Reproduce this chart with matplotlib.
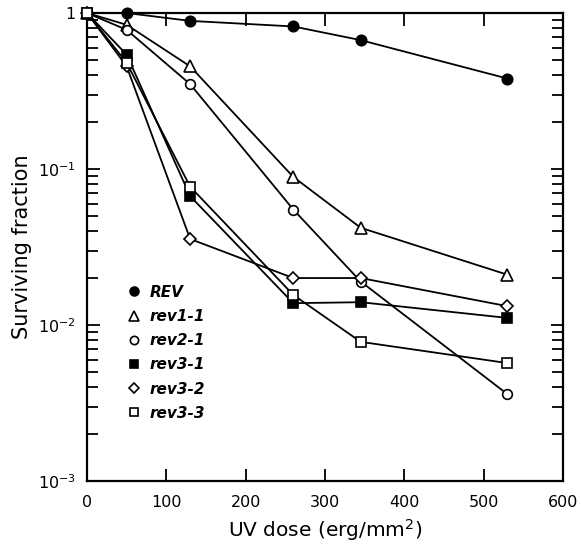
import matplotlib
matplotlib.use("Agg")
import matplotlib.pyplot as plt
from matplotlib.ticker import LogLocator, FixedLocator, NullFormatter, FixedFormatter

plt.rcParams['font.family'] = ['DejaVu Sans']
plt.rcParams['mathtext.fontset'] = 'dejavusans'

dose = [0, 50, 130, 260, 345, 530]

strains = ["REV", "rev1-1", "rev2-1", "rev3-1", "rev3-2", "rev3-3"]
survival = {
    "REV":    [1.0, 1.0, 0.89, 0.82, 0.67, 0.38],
    "rev1-1": [1.0, 0.84, 0.455, 0.089, 0.042, 0.021],
    "rev2-1": [1.0, 0.78, 0.35, 0.055, 0.019, 0.0036],
    "rev3-1": [1.0, 0.54, 0.067, 0.0138, 0.0140, 0.0111],
    "rev3-2": [1.0, 0.455, 0.0356, 0.0200, 0.0200, 0.0132],
    "rev3-3": [1.0, 0.48, 0.077, 0.0156, 0.0078, 0.0057],
}
markers = {"REV": "o", "rev1-1": "^", "rev2-1": "o", "rev3-1": "s",
           "rev3-2": "D", "rev3-3": "s"}
filled = {"REV": True, "rev1-1": False, "rev2-1": False, "rev3-1": True,
          "rev3-2": False, "rev3-3": False}
msize = {"REV": 7.5, "rev1-1": 9, "rev2-1": 7, "rev3-1": 6.5,
         "rev3-2": 6.2, "rev3-3": 6.5}

xticks = [0, 100, 200, 300, 400, 500, 600]
yticks = [1e-3, 1e-2, 1e-1, 1]
ytick_labels = [r"$10^{-3}$", r"$10^{-2}$", r"$10^{-1}$", "1"]

fig = plt.figure(figsize=(5.81, 5.47), dpi=100)
ax = fig.add_axes([87 / 581, 1 - 481 / 547, 476 / 581, 468 / 547])

for s in strains:
    ax.plot(dose, survival[s], color="black", lw=1.3,
            marker=markers[s], ms=msize[s],
            mfc="black" if filled[s] else "white", mec="black",
            mew=1.2, zorder=3, clip_on=False)

ax.set_yscale("log")
ax.set_xlim(0, 600)
ax.set_ylim(1e-3, 1.0)

ax.xaxis.set_major_locator(FixedLocator(xticks))
ax.yaxis.set_major_locator(FixedLocator(yticks))
ax.yaxis.set_major_formatter(FixedFormatter(ytick_labels))
ax.yaxis.set_minor_locator(LogLocator(base=10, subs=range(2, 10)))
ax.yaxis.set_minor_formatter(NullFormatter())

ax.tick_params(which="both", direction="in", top=True, right=True,
               labelsize=11.5, width=1.3)
ax.tick_params(axis="x", pad=10)
ax.tick_params(axis="y", pad=8)
ax.tick_params(which="major", length=9)
ax.tick_params(which="minor", length=8)
for sp in ax.spines.values():
    sp.set_linewidth(1.6)

ax.set_xlabel(r"UV dose (erg/mm$^2$)", fontsize=14.5, labelpad=5)
ax.set_ylabel("Surviving fraction", fontsize=15, labelpad=4)

# marker-only legend entries
leg_handles = []
for s in strains:
    (h,) = ax.plot([], [], linestyle="none", marker=markers[s], ms=msize[s] * 0.85,
                   mfc="black" if filled[s] else "white", mec="black", mew=1.2)
    leg_handles.append(h)
ax.legend(leg_handles, strains, loc="upper left",
          bbox_to_anchor=(0.06, 0.442), frameon=False,
          prop={"style": "italic", "weight": "bold", "size": 11},
          handlelength=1.0, handletextpad=0.55, labelspacing=0.6,
          borderpad=0.2)

fig.savefig("out.png", dpi=100)
